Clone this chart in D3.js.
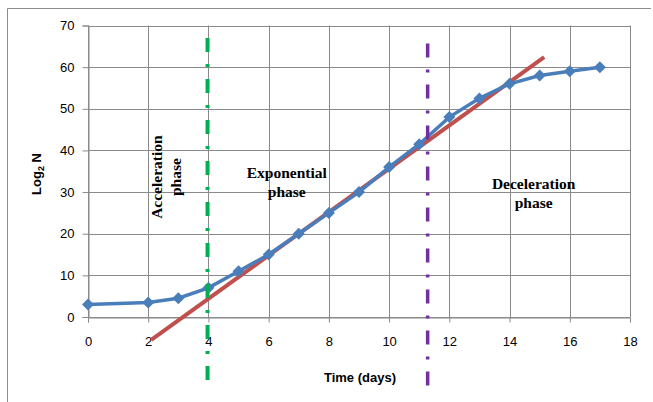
<!DOCTYPE html>
<html>
<head>
<meta charset="utf-8">
<script src="https://cdn.jsdelivr.net/npm/d3@7"></script>
<style>
  body { margin: 0; background: #fff; }
  text { fill: #000; }
</style>
</head>
<body>
<div id="chart"></div>
<script>
var width = 653,
    height = 402;

// growth curve, time in days vs log2 N
var days = [0, 2, 3, 4, 5, 6, 7, 8, 9, 10, 11, 12, 13, 14, 15, 16, 17];
var log2N = [3, 3.5, 4.5, 7, 11, 15, 20, 25, 30, 36, 41.5, 48, 52.5, 56, 58, 59, 60];

// fitted line over the exponential phase
var trendX = [2.1, 15.15];
var trendY = [-5.5, 62.4];

// phase boundaries (x position, top, bottom)
var accelLine = [3.97, 67, -15.3];
var decelLine = [11.28, 65.7, -17];

var xTicks = [0, 2, 4, 6, 8, 10, 12, 14, 16, 18];
var yTicks = [0, 10, 20, 30, 40, 50, 60, 70];

var phaseLabels = [
  {lines: ["Acceleration", "phase"], x: 2.47, y: 33.6, rotate: -90},
  {lines: ["Exponential", "phase"], x: 6.6, y: 33.3, rotate: 0},
  {lines: ["Deceleration", "phase"], x: 14.8, y: 30.7, rotate: 0}
];

var x = d3.scaleLinear().domain([0, 18]).range([88, 630]);
var y = d3.scaleLinear().domain([0, 70]).range([317, 25.5]);

var svg = d3.select("#chart").append("svg")
    .attr("width", width)
    .attr("height", height);

svg.append("rect")
    .attr("width", width)
    .attr("height", height)
    .attr("fill", "#fff");

// outer chart border (top and left only are in view)
svg.append("path")
    .attr("d", "M7.5,402V8.5H651")
    .attr("fill", "none")
    .attr("stroke", "#8c8c8c")
    .attr("stroke-width", 1);

// grid
svg.append("g")
    .selectAll("line.h")
    .data(yTicks)
  .enter().append("line")
    .attr("x1", x(0)).attr("x2", x(18))
    .attr("y1", function(d) { return Math.round(y(d)) + 0.5; })
    .attr("y2", function(d) { return Math.round(y(d)) + 0.5; })
    .attr("stroke", "#8a8a8a");

svg.append("g")
    .selectAll("line.v")
    .data(xTicks)
  .enter().append("line")
    .attr("x1", function(d) { return Math.round(x(d)) + 0.5; })
    .attr("x2", function(d) { return Math.round(x(d)) + 0.5; })
    .attr("y1", y(70)).attr("y2", y(0))
    .attr("stroke", "#8a8a8a");

// axes
var xAxis = svg.append("g")
    .attr("transform", "translate(0," + (Math.round(y(0)) + 0.5) + ")")
    .call(d3.axisBottom(x).tickValues(xTicks).tickSize(5).tickPadding(14));

var yAxis = svg.append("g")
    .attr("transform", "translate(" + (Math.round(x(0)) + 0.5) + ",0)")
    .call(d3.axisLeft(y).tickValues(yTicks).tickSize(6).tickPadding(8));

[xAxis, yAxis].forEach(function(g) {
  g.select(".domain").attr("stroke", "#8a8a8a");
  g.selectAll(".tick line").attr("stroke", "#8a8a8a");
  g.selectAll("text")
      .attr("fill", "#000")
      .style("font-family", "'Liberation Sans', Arial, sans-serif")
      .style("font-size", "13px");
});

// phase boundary lines
function phaseLine(p, color, w) {
  svg.append("line")
      .attr("x1", x(p[0])).attr("x2", x(p[0]))
      .attr("y1", y(p[1])).attr("y2", y(p[2]))
      .attr("stroke", color)
      .attr("stroke-width", w)
      .attr("stroke-dasharray", "14,12,3,12");
}

// trend line
svg.append("line")
    .attr("x1", x(trendX[0])).attr("y1", y(trendY[0]))
    .attr("x2", x(trendX[1])).attr("y2", y(trendY[1]))
    .attr("stroke", "#c0504d")
    .attr("stroke-width", 4);

// data series
var line = d3.line()
    .x(function(d, i) { return x(days[i]); })
    .y(function(d) { return y(d); });

svg.append("path")
    .datum(log2N)
    .attr("d", line)
    .attr("fill", "none")
    .attr("stroke", "#4a7ebb")
    .attr("stroke-width", 3.5);

svg.append("g")
    .selectAll("path")
    .data(log2N)
  .enter().append("path")
    .attr("d", "M0,-6L6,0L0,6L-6,0Z")
    .attr("transform", function(d, i) {
      return "translate(" + [x(days[i]), y(d)] + ")";
    })
    .attr("fill", "#4a7ebb");

phaseLine(accelLine, "#00b050", 4);
phaseLine(decelLine, "#7030a0", 3.5);

// phase labels
phaseLabels.forEach(function(p) {
  var t = svg.append("text")
      .attr("text-anchor", "middle")
      .attr("transform", "translate(" + [x(p.x), y(p.y)] + ")rotate(" + p.rotate + ")")
      .style("font-family", "'Liberation Serif', 'Times New Roman', serif")
      .style("font-weight", "bold")
      .style("font-size", "15.5px");
  t.selectAll("tspan")
      .data(p.lines)
    .enter().append("tspan")
      .attr("x", 0)
      .attr("dy", function(d, i) { return i ? 19 : 0; })
      .text(function(d) { return d; });
});

// axis titles
var yTitle = svg.append("text")
    .attr("text-anchor", "middle")
    .attr("transform", "translate(41,174)rotate(-90)")
    .style("font-family", "'Liberation Sans', Arial, sans-serif")
    .style("font-weight", "bold")
    .style("font-size", "13px");
yTitle.append("tspan").text("Log");
yTitle.append("tspan").attr("dy", 3).style("font-size", "9px").text("2");
yTitle.append("tspan").attr("dy", -3).text(" N");

svg.append("text")
    .attr("x", 360)
    .attr("y", 382)
    .attr("text-anchor", "middle")
    .style("font-family", "'Liberation Sans', Arial, sans-serif")
    .style("font-weight", "bold")
    .style("font-size", "13px")
    .text("Time (days)");
</script>
</body>
</html>
